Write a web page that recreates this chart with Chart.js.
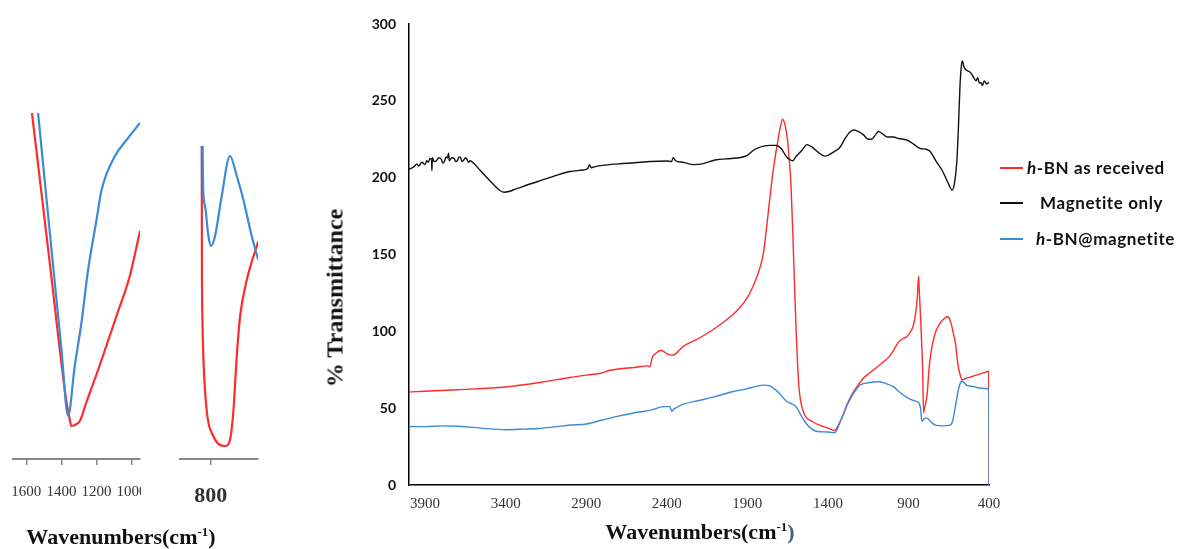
<!DOCTYPE html>
<html>
<head>
<meta charset="utf-8">
<title>FTIR spectra</title>
<script src="https://cdn.jsdelivr.net/npm/chart.js@4.4.0/dist/chart.umd.min.js"></script>
<style>
    html, body { margin: 0; padding: 0; background: #fff; }
    #stage { position: relative; width: 1182px; height: 549px; overflow: hidden; }
    .wrap { position: absolute; top: 0; overflow: hidden; }
    .axtitle {
        position: absolute;
        font-family: 'Liberation Serif', 'DejaVu Serif', serif;
        font-weight: bold;
        font-size: 22px;
        color: #111;
        white-space: nowrap;
        transform: translate(-50%, -50%);
    }
    .axtitle sup { font-size: 13px; }
    .legend-item {
        position: absolute;
        font-family: 'Lato', 'Liberation Sans', sans-serif;
        font-weight: bold;
        font-size: 17px;
        letter-spacing: 0.6px;
        color: #111;
        white-space: nowrap;
        line-height: 20px;
    }
    .legend-line { position: absolute; height: 2px; width: 23px; }
</style>
</head>
<body>
<div id="stage">
    <div class="wrap" style="left:0; width:141px; height:549px;"><canvas id="inset1" width="180" height="549"></canvas></div>
    <div class="wrap" style="left:170px; width:100px; height:549px;"><canvas id="inset2" width="100" height="549"></canvas></div>
    <div class="wrap" style="left:320px; width:862px; height:549px;"><canvas id="mainChart" width="862" height="549"></canvas></div>

    <div class="axtitle" style="left:121px; top:537px;">Wavenumbers(cm<sup>-1</sup>)</div>
    <div class="axtitle" style="left:700px; top:532px;">Wavenumbers(cm<sup>-1</sup><span style="color:#3d5f8f">)</span></div>
    <div class="axtitle" style="left:335px; top:298px; font-size:24px; transform: translate(-50%, -50%) rotate(-90deg);">% Transmittance</div>

    <div class="legend-line" style="left:1000px; top:167px; background:#ff2b2b;"></div>
    <div class="legend-item" style="left:1027px; top:158px;"><i>h</i>-BN as received</div>
    <div class="legend-line" style="left:1000px; top:202px; background:#111;"></div>
    <div class="legend-item" style="left:1040px; top:193px;">Magnetite only</div>
    <div class="legend-line" style="left:1000px; top:238px; background:#3b8ad6;"></div>
    <div class="legend-item" style="left:1036px; top:229px;"><i>h</i>-BN@magnetite</div>
</div>

<script>
// --- colours ---
const RED = '#ff2b2b';
const BLACK = '#111111';
const BLUE = '#3b8ad6';

// --- main spectrum: x tick labels ---
const X_TICKS = [3900, 3400, 2900, 2400, 1900, 1400, 900, 400];

// Magnetite only
const BLACK_WN = [4000, 3970, 3950, 3940, 3935, 3920, 3900, 3890, 3880, 3870, 3860, 3858, 3855, 3845, 3830, 3815, 3800, 3790, 3780, 3770, 3760,
    3755, 3750, 3735, 3720, 3710, 3700, 3690, 3680, 3670, 3660, 3650, 3640, 3630, 3620, 3600,
    3560, 3520, 3480, 3440, 3410, 3380, 3340, 3300, 3200, 3100, 3000, 2920, 2890, 2880, 2870, 2850, 2800, 2700, 2600, 2500, 2400, 2370, 2360, 2345,
    2300, 2230, 2180, 2100, 2000, 1950, 1900, 1860, 1830, 1800, 1760, 1723, 1690, 1660, 1640, 1619, 1600, 1560, 1530, 1500, 1460, 1420, 1400, 1360,
    1327, 1290, 1265, 1240, 1210, 1180, 1150, 1130, 1100, 1087, 1060, 1030, 994, 960, 910, 870, 827, 790, 765, 730, 692, 660, 629, 615, 600, 590,
    580, 570, 565, 555, 540, 515, 500, 480, 470, 460, 452, 440, 430, 415, 400];
const BLACK_T = [205.5, 207, 209, 207.5, 208, 210, 208.5, 211, 210, 212.5, 212, 204.5, 213, 210.5, 211, 213, 212, 209.5, 210.5, 213.5, 213,
    216, 211, 213, 212.5, 210.5, 211, 213.5, 213, 210.5, 211.5, 213, 212, 210, 211, 209.5,
    205, 200.5, 196, 192, 190.5, 191, 192.5, 194, 197.5, 201, 204, 205, 206, 208.5, 206.5, 207, 208, 209, 209.7, 210.5, 210.8, 210.5, 213, 211,
    210, 208.5, 209, 211.5, 212.5, 213, 214.5, 218, 219.5, 220.5, 221, 221, 219, 214, 212, 211, 213.5, 218, 221.5, 220, 216.5, 214, 214.5, 217,
    219.5, 226, 229.5, 231, 230, 228, 225, 225, 228.5, 230, 228.5, 226.5, 226.5, 225.5, 224.5, 222, 219, 218.5, 217, 211, 205, 198, 192, 196, 210, 232,
    260, 274, 276, 272, 270, 268.5, 266, 263, 265, 261.5, 262, 260, 263, 261, 262];

// h-BN as received
const RED_WN = [4000, 3900, 3700, 3400, 3200, 3000, 2900, 2800, 2760, 2700, 2600, 2520, 2505, 2490, 2470, 2440, 2420, 2400, 2370, 2350, 2320, 2300,
    2200, 2100, 2000, 1950, 1900, 1870, 1850, 1820, 1800, 1780, 1760, 1744, 1725, 1712, 1695, 1681, 1670, 1660, 1650, 1640, 1629, 1618, 1608, 1597,
    1587, 1577, 1567, 1550, 1535, 1500, 1452, 1400, 1358, 1330, 1300, 1285, 1250, 1213, 1180, 1140, 1098, 1050, 1015, 990, 962, 930, 910, 880, 869,
    855, 845, 837, 832, 823, 812, 806, 800, 785, 770, 754, 730, 702, 675, 660, 650, 635, 620, 608, 595, 580, 567, 540, 494, 450, 420, 402, 400];
const RED_T = [60.5, 61, 62, 63.8, 66.5, 70, 71.5, 73, 74.5, 75.5, 76.5, 77.5, 77, 83, 85.5, 87.5, 87, 85.5, 84.5, 85, 88, 90,
    95.5, 102, 110, 115, 122, 128, 133, 142, 151, 168, 187, 201, 215, 223, 233, 238, 236, 231, 224, 212, 195, 165, 133, 100,
    76, 61, 53.5, 47, 44, 41.5, 39, 37, 35.5, 40, 47, 51.5, 59, 65, 69.5, 73, 76.5, 80.5, 84, 88, 93, 95.5, 96.5, 101, 104,
    112, 122, 136, 125, 105, 75, 47, 50, 58, 78, 90, 100, 105.5, 108.5, 109.5, 109, 105, 98, 92, 80, 72, 68.5, 69.5, 71, 72.5, 73.5, 74, 0];

// h-BN@magnetite
const BLUE_WN = [4000, 3999, 3900, 3800, 3700, 3600, 3500, 3400, 3300, 3200, 3100, 3000, 2900, 2800, 2700, 2600, 2500, 2420, 2380, 2370, 2355,
    2300, 2200, 2100, 2000, 1900, 1850, 1800, 1760, 1744, 1710, 1671, 1650, 1629, 1598, 1570, 1535, 1500, 1473, 1400, 1358, 1320, 1285, 1250,
    1202, 1150, 1087, 1040, 994, 950, 910, 870, 837, 825, 817, 810, 800, 785, 760, 733, 690, 640, 625, 608, 590, 575, 567, 540, 494, 450, 401, 400];
const BLUE_T = [0, 38, 38, 38.5, 38.2, 37.5, 36.5, 36, 36.3, 36.8, 37.8, 39, 39.7, 42.3, 44.8, 47, 48.7, 51, 51, 48, 49.5,
    52.5, 55, 57.5, 60.5, 62.7, 64, 65, 64.5, 63.5, 60.5, 56, 54, 53, 51, 46, 40, 36.5, 35, 34.5, 34, 42, 51, 58,
    65, 66.5, 67.2, 66, 64, 60, 57, 55, 53.5, 50, 41.5, 42, 43.5, 43.5, 41, 39, 38.5, 39, 42, 51.5, 62, 67, 67.5, 65, 64, 63, 62.5, 0];

// --- inset 1 (B-N stretch region), relative transmittance ---
const IN1_TICKS = [1600, 1400, 1200, 1000];
const IN1_RED_WN = [1568, 1467, 1371, 1356, 1343, 1324, 1295, 1257, 1181, 1086, 1010, 952];
const IN1_RED_T = [346, 197, 57, 43, 33, 34, 38, 57, 94, 143, 183, 228];
const IN1_BLUE_WN = [1533, 1467, 1400, 1362, 1324, 1286, 1248, 1200, 1171, 1095, 1029, 952];
const IN1_BLUE_T = [346, 228, 110, 43, 93, 136, 189, 239, 269, 303, 319, 336];

// --- inset 2 (B-N-B bending region) ---
const IN2_TICKS = [800];
const IN2_RED_WN = [851, 850, 847, 842, 823, 785, 718, 690, 670, 651, 632, 594, 528];
const IN2_RED_T = [313, 203, 140, 103, 49, 23, 13, 19, 49, 103, 143, 179, 218];
const IN2_BLUE_WN = [846, 843, 832, 813, 798, 775, 737, 690, 651, 613, 566, 528];
const IN2_BLUE_T = [313, 270, 253, 223, 213, 223, 263, 303, 283, 259, 223, 199];

const pts = (xs, ys) => xs.map((x, i) => ({ x: x, y: ys[i] }));

function line(label, xs, ys, color, width) {
    return {
        label: label,
        data: pts(xs, ys),
        borderColor: color,
        backgroundColor: color,
        borderWidth: width,
        pointRadius: 0,
        cubicInterpolationMode: 'monotone',
        fill: false
    };
}

// keep label overhang from shrinking the plot area
function noSidePadding(s) {
    s.paddingLeft = 0;
    s.paddingRight = 0;
}

// --- main chart ---
new Chart(document.getElementById('mainChart'), {
    type: 'line',
    data: {
        datasets: [
            line('Magnetite only', BLACK_WN, BLACK_T, BLACK, 1.4),
            line('h-BN@magnetite', BLUE_WN, BLUE_T, BLUE, 1.4),
            line('h-BN as received', RED_WN, RED_T, RED, 1.4)
        ]
    },
    options: {
        responsive: false,
        animation: false,
        layout: { padding: { top: 24, right: 193, left: 0, bottom: 0 } },
        plugins: { legend: { display: false }, tooltip: { enabled: false } },
        scales: {
            x: {
                type: 'linear',
                reverse: true,
                min: 400,
                max: 4000,
                afterBuildTicks: s => { s.ticks = X_TICKS.map(v => ({ value: v })); },
                afterFit: s => { s.height = 64; noSidePadding(s); },
                grid: { drawOnChartArea: false, drawTicks: false },
                border: { color: '#000', width: 1.5 },
                ticks: {
                    padding: 10,
                    autoSkip: false,
                    maxRotation: 0,
                    color: '#333',
                    callback: v => String(v),
                    font: { family: "'Liberation Serif', serif", size: 15 }
                }
            },
            y: {
                min: 0,
                max: 300,
                afterFit: s => { s.width = 89; },
                grid: { drawOnChartArea: false, drawTicks: false },
                border: { color: '#000', width: 1.5 },
                ticks: {
                    stepSize: 50,
                    padding: 13,
                    color: '#111',
                    font: { family: "'Lato', sans-serif", size: 14, weight: 'bold' }
                }
            }
        }
    }
});

// --- inset helper ---
function inset(id, red, blue, ticks, xmin, xmax, pad, tickFont) {
    return new Chart(document.getElementById(id), {
        type: 'line',
        data: {
            datasets: [
                line('h-BN@magnetite', blue[0], blue[1], BLUE, 2.2),
                line('h-BN as received', red[0], red[1], RED, 2.2)
            ]
        },
        options: {
            responsive: false,
            animation: false,
            layout: { padding: pad },
            plugins: { legend: { display: false }, tooltip: { enabled: false } },
            scales: {
                x: {
                    type: 'linear',
                    reverse: true,
                    min: xmin,
                    max: xmax,
                    afterBuildTicks: s => { s.ticks = ticks.map(v => ({ value: v })); },
                    afterFit: s => { s.height = 90; noSidePadding(s); },
                    grid: { drawOnChartArea: false, drawTicks: true, tickLength: 6, color: '#888', lineWidth: 1.5 },
                    border: { color: '#888', width: 2 },
                    ticks: { padding: 18, autoSkip: false, maxRotation: 0, color: '#333', callback: v => String(v), font: tickFont }
                },
                y: { display: false, min: 0, max: 346 }
            }
        }
    });
}

inset('inset1', [IN1_RED_WN, IN1_RED_T], [IN1_BLUE_WN, IN1_BLUE_T], IN1_TICKS, 952, 1676,
    { left: 13, right: 40, top: 113, bottom: 0 },
    { family: "'Liberation Serif', serif", size: 15 });

inset('inset2', [IN2_RED_WN, IN2_RED_T], [IN2_BLUE_WN, IN2_BLUE_T], IN2_TICKS, 530, 975,
    { left: 10, right: 12, top: 113, bottom: 0 },
    { family: "'Liberation Serif', serif", size: 22, weight: 'bold' });
</script>
</body>
</html>
